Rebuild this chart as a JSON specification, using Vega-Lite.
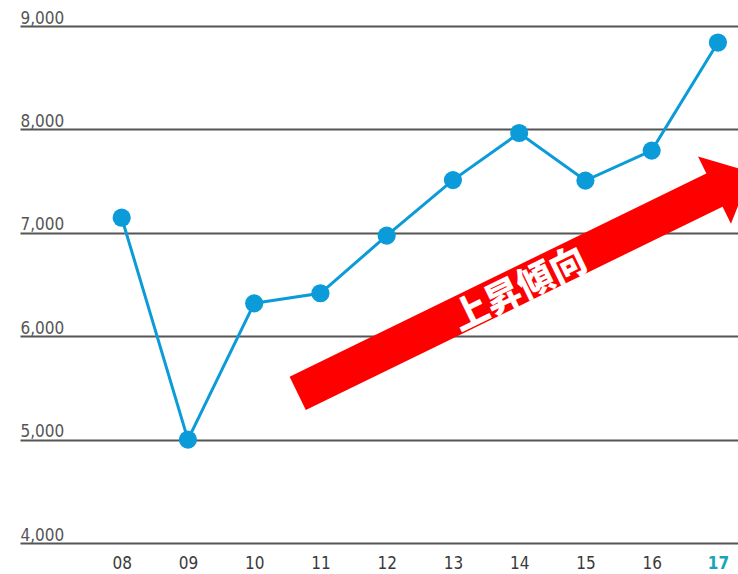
{
  "$schema": "https://vega.github.io/schema/vega-lite/v6.json",
  "width": 718,
  "height": 517,
  "autosize": {"type": "none"},
  "padding": {"left": 20, "top": 26, "right": 0, "bottom": 31},
  "background": "white",
  "config": {"view": {"stroke": null}},
  "datasets": {
    "sales": [
      {"year": 2008, "value": 7146},
      {"year": 2009, "value": 5000},
      {"year": 2010, "value": 6318},
      {"year": 2011, "value": 6415},
      {"year": 2012, "value": 6972},
      {"year": 2013, "value": 7510},
      {"year": 2014, "value": 7965},
      {"year": 2015, "value": 7505},
      {"year": 2016, "value": 7795},
      {"year": 2017, "value": 8840}
    ],
    "arrow": [
      {"year": 2010.657, "value": 5447.8},
      {"year": 2016.962, "value": 7416.8}
    ],
    "head": [
      {"year": 2017.233, "value": 7502}
    ],
    "label": [
      {"year": 2014.012, "value": 6447, "text": "上昇傾向"}
    ]
  },
  "encoding": {
    "x": {"field": "year", "type": "quantitative",
      "scale": {"domain": [2006.465, 2017.303], "nice": false, "zero": false},
      "axis": {
        "values": [2008, 2009, 2010, 2011, 2012, 2013, 2014, 2015, 2016, 2017],
        "labelExpr": "substring(toString(datum.value), 2)",
        "title": null, "grid": false, "domain": false, "ticks": false, "tickSize": 0,
        "labelPadding": 25, "labelBaseline": "alphabetic",
        "labelFont": "DejaVu Sans Condensed", "labelFontSize": 17,
        "labelColor": {"condition": {"test": "datum.value == 2017", "value": "#17a5b8"}, "value": "#3a3a3a"},
        "labelFontWeight": {"condition": {"test": "datum.value == 2017", "value": "bold"}, "value": "normal"},
        "labelFlush": false, "labelOverlap": false
      }},
    "y": {"field": "value", "type": "quantitative",
      "scale": {"domain": [4000, 9000], "nice": false, "zero": false},
      "axis": {
        "values": [4000, 5000, 6000, 7000, 8000, 9000],
        "format": ",.0f",
        "title": null, "grid": true, "gridColor": "#555555", "gridWidth": 2, "gridOpacity": 1,
        "domain": false, "ticks": false, "tickSize": 0,
        "labelAlign": "left", "labelPadding": 0, "labelBaseline": "alphabetic", "labelOffset": -3,
        "labelFont": "DejaVu Sans Condensed", "labelFontSize": 17, "labelColor": "#555555",
        "labelFlush": false, "labelOverlap": false
      }}
  },
  "layer": [
    {
      "data": {"name": "sales"},
      "mark": {"type": "line", "color": "#0a9bd8", "strokeWidth": 3,
        "point": {"filled": true, "size": 330, "color": "#0a9bd8", "opacity": 1}}
    },
    {
      "data": {"name": "arrow"},
      "mark": {"type": "line", "color": "#ff0000", "strokeWidth": 37, "strokeCap": "butt"}
    },
    {
      "data": {"name": "head"},
      "mark": {"type": "point", "shape": "M -0.56 -1 L 0.533 0 L -0.56 1 Z", "filled": true, "color": "#ff0000", "opacity": 1, "size": 5625, "angle": -26, "strokeWidth": 0}
    },
    {
      "data": {"name": "label"},
      "mark": {"type": "text", "font": "Noto Sans CJK JP", "fontWeight": 900, "fontSize": 36, "color": "white", "angle": -26, "align": "center", "baseline": "middle"},
      "encoding": {
        "text": {"field": "text", "type": "nominal"}
      }
    }
  ]
}
